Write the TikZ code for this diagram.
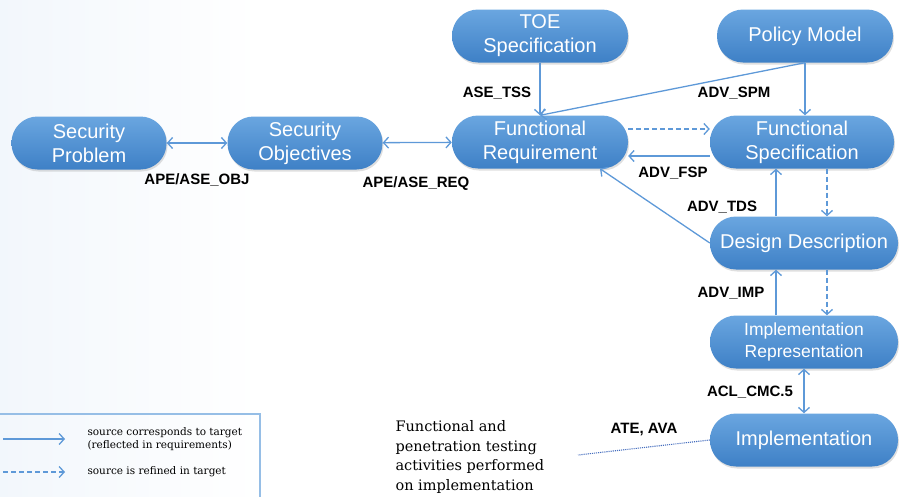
\documentclass[tikz,border=0pt]{standalone}
\usepackage{fontspec}
\setmainfont{Liberation Sans}
\newfontfamily\notefont{DejaVu Serif}
\usetikzlibrary{
  arrows.meta,
  shadows,
}
\definecolor{boxtop}{RGB}{106,166,224}
\definecolor{boxbottom}{RGB}{62,128,198}
\definecolor{linkblue}{RGB}{94,153,216}
\definecolor{legendblue}{RGB}{150,190,230}
\definecolor{dotblue}{RGB}{70,110,190}
\tikzset{
  >={Straight Barb[length=5pt,width=11pt]},
}

\begin{document}
\begin{tikzpicture}[x=1pt,y=-1pt,
    stage/.style={rectangle,rounded corners=26pt,top color=boxtop,bottom color=boxbottom,
      text=white,align=center,minimum height=53pt,inner sep=2pt,
      font=\fontsize{20}{24}\selectfont,
      drop shadow={opacity=0.25,shadow xshift=1pt,shadow yshift=-2pt}},
    link/.style={draw=linkblue,line width=1.3pt},
    refine/.style={link,dash pattern=on 5pt off 3pt},
    tag/.style={font=\bfseries\fontsize{15}{17}\selectfont},
    note/.style={font=\notefont\fontsize{14.5}{19.5}\selectfont,align=left},
    legendtext/.style={font=\notefont\fontsize{10.5}{13}\selectfont,align=left,anchor=west},
  ]
    \useasboundingbox (0,0) rectangle (900,496);
    \fill[left color=linkblue!8,right color=white] (0,0) rectangle (260,496);

        % stages
        \node[stage,minimum width=155pt]    (sp)    at (89,143)    {Security\\Problem};
        \node[stage,minimum width=155pt]    (so)    at (305,143)   {Security\\Objectives};
        \node[stage,minimum width=176pt]    (fr)    at (540,142)   {Functional\\Requirement};
        \node[stage,minimum width=176pt]    (toe)   at (540,36)    {TOE\\Specification};
        \node[stage,minimum width=176pt]    (pm)    at (805,36)    {Policy Model};
        \node[stage,minimum width=184pt]    (fs)    at (802,142)   {Functional\\Specification};
        \node[stage,minimum width=188pt]    (dd)    at (804,243)   {Design Description};
        \node[stage,minimum width=188pt,font=\fontsize{17.5}{22}\selectfont]    (ir)    at (804,342)   {Implementation\\Representation};
        \node[stage,minimum width=188pt]    (impl)  at (804,440)   {Implementation};

        % connectors
        \draw[link,<->] (sp) -- (so);
        \draw[link,<->] (so) -- (fr);
        \draw[link,->] (toe) -- (fr);
        \draw[link,->] (pm.south) -- (fr.north);
        \draw[link,->] (pm.south) -- (pm.south |- fs.north);
        \draw[refine,->] ([yshift=13pt]fr.east) -- ([yshift=13pt]fr.east -| fs.west);
        \draw[link,->] ([yshift=-14pt]fs.west) -- ([yshift=-14pt]fs.west -| fr.east);
        \draw[link,->] (dd.west) -- ([xshift=60pt]fr.south);
        \draw[link,->] ([xshift=-28pt]dd.north) -- ([xshift=-28pt]dd.north |- fs.south);
        \draw[refine,->] ([xshift=23pt]dd.north |- fs.south) -- ([xshift=23pt]dd.north);
        \draw[link,->] ([xshift=-28pt]ir.north) -- ([xshift=-28pt]ir.north |- dd.south);
        \draw[refine,->] ([xshift=23pt]ir.north |- dd.south) -- ([xshift=23pt]ir.north);
        \draw[link,<->] (ir) -- (impl);

        \coordinate (testend) at (578,455);
        \draw[dotblue,densely dotted,line width=1.1pt] (impl.west) -- (testend);

        % labels
        \node[tag]  (obj)   at (197,180)   {APE/ASE\_OBJ};
        \node[tag]  (req)   at (416,184)   {APE/ASE\_REQ};
        \node[tag]  (tss)   at (497,93)    {ASE\_TSS};
        \node[tag]  (spm)   at (734,93)    {ADV\_SPM};
        \node[tag]  (fsp)   at (673,173)   {ADV\_FSP};
        \node[tag]  (tds)   at (722,207)   {ADV\_TDS};
        \node[tag]  (imp)   at (731,293)   {ADV\_IMP};
        \node[tag]  (cmc)   at (750,392)   {ACL\_CMC.5};
        \node[tag]  (ava)   at (644,429)   {ATE, AVA};

        \node[note,anchor=north west]  (testing)  at (392,417)
            {Functional and\\penetration testing\\activities performed\\on implementation};

        % legend
        \draw[legendblue,line width=1.5pt] (-5,414) rectangle (260,505);
        \coordinate (soa) at (3,439);
        \coordinate (sob) at (65,439);
        \coordinate (rea) at (3,472);
        \coordinate (reb) at (65,472);
        \draw[link,->] (soa) -- (sob);
        \draw[refine,->] (rea) -- (reb);
        \node[legendtext]  (solegend)  at (84,439)  {source corresponds to target\\(reflected in requirements)};
        \node[legendtext]  (relegend)  at (84,472)  {source is refined in target};

    \end{tikzpicture}
\end{document}
